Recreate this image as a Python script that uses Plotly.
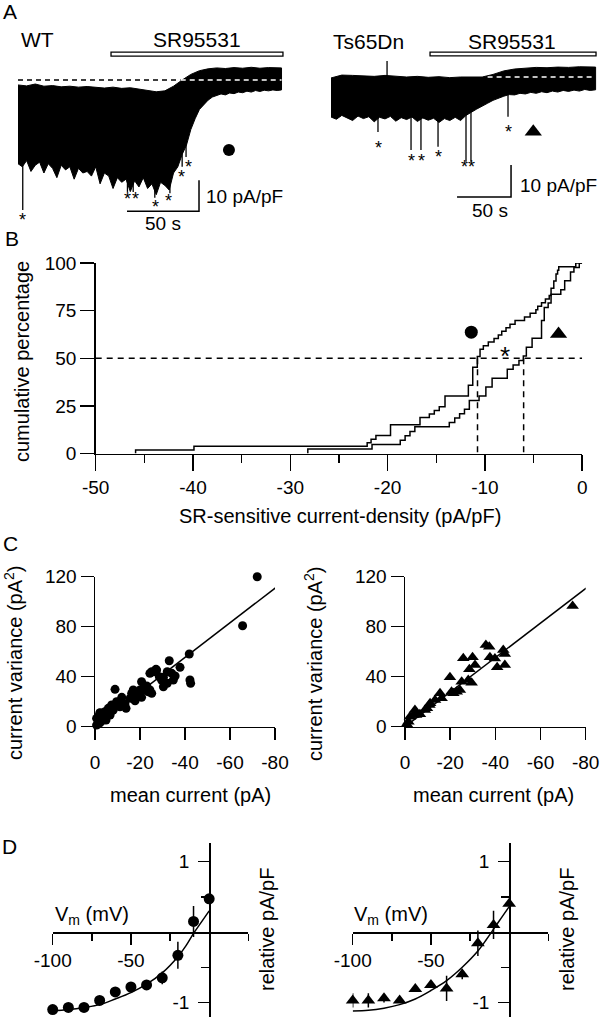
import plotly.graph_objects as go

W, H = 600, 1019
FONT = "Liberation Sans, Arial, sans-serif"

# ---------------- Panel A: recordings (time in s, current density in pA/pF) ----------------
wt_upper_t = [0, 6, 12, 18, 24, 30, 36, 42, 48, 54, 60, 66, 72, 78, 84, 90, 96, 102, 108, 114,
              120, 126, 132, 138, 144, 150, 156, 162, 168, 174, 180, 183]
wt_upper_i = [-1.6, -1.9, -1.3, -2.0, -1.8, -2.2, -2.0, -2.3, -2.1, -2.4, -2.6, -2.3, -2.7, -2.5,
              -2.9, -3.2, -3.8, -3.5, -2.0, 0.0, 1.8, 3.0, 3.6, 3.9, 3.7, 4.0, 3.8, 4.1, 3.8, 4.0,
              3.9, 3.9]
wt_lower_t = [0, 3, 6, 9, 12, 15, 18, 21, 24, 27, 30, 33, 36, 39, 42, 45, 48, 51, 54, 57, 60, 63,
              66, 69, 72, 75, 78, 81, 84, 87, 90, 93, 96, 99, 102, 105, 108, 111, 114, 117, 120,
              123, 126, 129, 132, 135, 138, 141, 144, 147, 150, 153, 156, 159, 162, 165, 168, 171,
              174, 177, 180, 183]
wt_lower_i = [-27, -28, -26, -29.5, -27.5, -26.5, -30, -27, -28.5, -31.5, -27.5, -29, -28, -32,
              -28.5, -30, -29.5, -31, -28, -33.5, -30, -31, -35, -31.5, -33, -32, -36, -32.5,
              -34.5, -31.5, -35, -33.5, -37, -33, -34, -35.5, -30, -28, -24, -21, -16, -12.5,
              -9.5, -8, -6.5, -5.5, -5, -4.5, -4.8, -4.2, -4.4, -3.9, -4.1, -3.6, -3.9, -3.4,
              -3.7, -3.3, -3.5, -3.2, -3.4, -3.2]
wt_spike_t = [3.3, 76.0, 80.0, 95.0, 105.5, 114.0, 116.7]
wt_spike_min = [-41.9, -36.1, -36.1, -38.0, -36.5, -28.0, -24.8]
wt_star_t = [3.3, 76.2, 81.9, 95.8, 104.4, 113.7, 118.3]
wt_star_i = [-43.9, -37.1, -37.1, -39.7, -37.7, -30.0, -26.8]

ts_upper_t = [0, 10, 20, 30, 40, 50, 60, 70, 80, 90, 100, 110, 120, 130, 140, 150, 160, 170, 180,
              190, 200, 210, 220, 230, 245]
ts_upper_i = [-0.3, 0.6, 0.5, 0.4, 0.2, 0.5, 0.3, 0.0, 0.2, -0.1, 0.1, -0.2, 0.0, -0.1, 0.0, 0.8,
              1.9, 2.5, 2.8, 3.0, 2.9, 3.1, 3.0, 3.2, 3.1]
ts_lower_t = [0, 5, 10, 15, 20, 25, 30, 35, 40, 45, 50, 55, 60, 65, 70, 75, 80, 85, 90, 95, 100,
              105, 110, 115, 120, 125, 130, 135, 140, 145, 150, 155, 160, 165, 170, 175, 180, 185,
              190, 195, 200, 205, 210, 215, 220, 225, 230, 235, 240, 245]
ts_lower_i = [-12.5, -13.2, -12.0, -12.8, -13.6, -12.2, -13.0, -12.4, -14.0, -12.6, -13.1, -12.3,
              -13.8, -12.7, -13.3, -12.5, -13.9, -12.8, -13.5, -12.9, -14.2, -13.0, -13.6, -12.6,
              -13.6, -12.0, -11.0, -10.0, -9.0, -8.2, -7.3, -6.6, -6.0, -5.5, -5.6, -5.1, -5.3,
              -4.8, -5.1, -4.6, -4.9, -4.4, -4.7, -4.2, -4.5, -4.1, -4.4, -3.9, -4.2, -4.0]
ts_spike_t = [43.5, 74.1, 83.3, 99.1, 125.0, 129.6, 163.9]
ts_spike_min = [-17.2, -22.8, -22.8, -21.8, -26.5, -26.5, -12.4]
ts_up_spike_t = 51.9
ts_up_spike_max = 5.0
ts_star_t = [43.8, 74.1, 84.0, 99.4, 124.0, 130.3, 164.2]
ts_star_i = [-20.9, -24.9, -24.9, -23.7, -27.0, -27.0, -16.0]

wt_sr = [64.6, 184.0]
ts_sr = [91.7, 245.4]
scale_t, scale_i = 50, 10
wt_bar_corner = [125.7, -42.3]
ts_bar_corner = [166.7, -37.5]
wt_marker_a = [146.5, -22.6]
ts_marker_a = [187.3, -17.1]

# ---------------- Panel B: cumulative distributions ----------------
wt_cdf_x = [-45.9, -39.9, -22.1, -21.7, -21.2, -19.7, -16.67, -15.71, -15.2, -14.69, -14.1, -11.7,
            -11.25, -10.78, -10.5, -10.16, -9.65, -9.06, -8.62, -8.27, -7.83, -7.42, -6.9, -5.93,
            -5.35, -4.76, -4.57, -4.18, -3.78, -3.39, -3.2, -2.92, -2.69, -2.53, -2.41, -0.66]
wt_cdf_pct = [1.9, 3.8, 5.7, 7.5, 9.4, 15.1, 18.9, 20.8, 22.6, 24.5, 30.2, 35.8, 45.3, 50.9, 54.7,
              56.6, 58.5, 60.4, 62.3, 64.2, 66.0, 67.9, 69.8, 71.7, 73.6, 75.5, 77.4, 79.2, 81.1,
              83.0, 86.8, 90.6, 94.3, 96.2, 98.1, 100]
ts_cdf_x = [-28.2, -21.6, -18.7, -18.2, -17.7, -17.2, -13.66, -13.1, -12.6, -12.1, -11.6, -10.6,
            -9.9, -9.26, -7.7, -7.1, -6.5, -6.05, -5.74, -5.15, -4.18, -3.9, -3.5, -3.2, -2.2,
            -1.8, -1.2, -0.85, -0.3]
ts_cdf_pct = [2.3, 4.7, 7.0, 9.3, 11.6, 14.0, 16.3, 18.6, 20.9, 23.3, 27.9, 30.2, 34.9, 39.5,
              44.2, 46.5, 48.8, 51.2, 55.8, 60.5, 69.8, 76.7, 79.1, 83.7, 86.0, 90.7, 95.3, 97.7,
              100]
wt_median, ts_median = -10.76, -6.02
wt_marker_b = [-11.4, 63.7]
ts_marker_b = [-2.43, 62.8]
star_b = [-7.9, 54.1]

# ---------------- Panel C: variance vs mean ----------------
wt_mean = [-72.1, -65.6, -41.9, -42.2, -42.5, -37.8, -33.0, -27.1, -25.2, -32.1, -30.4, -35.6,
           -29.6, -32.1, -30.4, -20.7, -23.0, -24.4, -20.0, -17.0, -16.3, -18.5, -20.7, -15.6,
           -17.8, -8.9, -11.9, -9.6, -13.3, -11.1, -7.4, -8.1, -5.9, -4.4, -6.7, -2.2, -3.7, -1.5,
           -3.0, -0.7, -0.7, -2.2, -3.7, -2.2, -5.2, -6.7, -4.9, -10.4, -12.6, -13.8, -24.4,
           -26.2, -27.4, -28.6, -34.1, -34.8, -21.5, -23.7, -25.2]
wt_var = [120, 80.8, 58.2, 37.4, 34.7, 47.5, 52.8, 45.9, 44.0, 44.0, 39.5, 40.6, 37.4, 34.7, 32.0,
          36.0, 32.6, 29.4, 29.4, 29.4, 26.7, 25.4, 23.5, 22.7, 20.8, 29.9, 23.5, 20.0, 18.2, 16.0,
          17.4, 13.4, 14.7, 12.0, 10.7, 11.2, 9.4, 8.0, 7.5, 6.7, 1.3, 3.2, 5.3, 10.7, 12.0, 9.3,
          5.3, 18.7, 18.7, 14.7, 42.7, 44.0, 45.3, 40.0, 42.7, 37.3, 29.3, 28.0, 26.7]
ts_mean = [-74.2, -35.8, -37.3, -43.5, -44.2, -44.2, -40.8, -39.8, -37.6, -25.8, -29.9, -31.0,
           -28.5, -19.9, -28.0, -29.5, -25.1, -24.3, -20.6, -21.4, -15.5, -16.2, -13.3, -10.8,
           -9.7, -4.4, -4.9, -2.2, -1.5, -3.7, -6.6, -8.8, -11.1, -22.9, -0.8]
ts_var = [96.5, 65.4, 64.0, 61.4, 58.1, 49.3, 47.5, 54.5, 55.5, 54.7, 55.5, 49.4, 45.9, 39.5,
          37.4, 35.2, 36.0, 29.4, 28.0, 26.7, 26.7, 22.7, 21.4, 17.4, 14.7, 13.4, 9.3, 8.0, 4.0,
          9.3, 9.9, 13.3, 18.7, 28.0, 2.0]
wt_fit_x, wt_fit_y = [0, -80.5], [0, 111.5]
ts_fit_x, ts_fit_y = [0, -80.2], [0, 110.8]

# ---------------- Panel D: I-V relations ----------------
vm = [-100, -90, -80, -70, -60, -50, -40, -30, -20, -10, 0]
wt_iv = [-1.10, -1.07, -1.07, -0.97, -0.85, -0.78, -0.75, -0.65, -0.33, 0.15, 0.47]
wt_iv_err = [0, 0, 0, 0, 0, 0, 0, 0.09, 0.19, 0.22, 0.05]
ts_iv = [-0.97, -0.97, -0.94, -0.97, -0.81, -0.75, -0.80, -0.60, -0.16, 0.10, 0.40]
ts_iv_err = [0.10, 0.10, 0.06, 0, 0, 0, 0.18, 0.07, 0.18, 0.20, 0.03]
vm_fit = [-100, -90, -80, -70, -60, -50, -40, -30, -20, -15, -10, -5, 0]
wt_fit_iv = [-1.12, -1.10, -1.07, -1.03, -0.95, -0.86, -0.74, -0.58, -0.35, -0.20, -0.02, 0.14, 0.30]
ts_fit_iv = [-1.12, -1.11, -1.08, -1.03, -0.95, -0.83, -0.69, -0.50, -0.27, -0.12, 0.04, 0.20, 0.36]


def px(x):
    return x / W


def py(y):
    return 1 - y / H


fig = go.Figure()


def line(x, y, xa, ya, color="black", width=1.5, dash=None, shape="linear"):
    fig.add_trace(go.Scatter(x=x, y=y, xaxis=xa, yaxis=ya, mode="lines", cliponaxis=False,
                             line=dict(color=color, width=width, dash=dash, shape=shape),
                             hoverinfo="skip"))


def markers(x, y, xa, ya, symbol, size, err=None):
    fig.add_trace(go.Scatter(x=x, y=y, xaxis=xa, yaxis=ya, mode="markers", cliponaxis=False,
                             marker=dict(symbol=symbol, size=size, color="black", line=dict(width=0)),
                             error_y=None if err is None else dict(type="data", array=err, color="black",
                                                                    thickness=1.5, width=0),
                             hoverinfo="skip"))


# ---- Panel A traces
for up_t, up_i, lo_t, lo_i, xa, ya in [(wt_upper_t, wt_upper_i, wt_lower_t, wt_lower_i, "x", "y"),
                                       (ts_upper_t, ts_upper_i, ts_lower_t, ts_lower_i, "x2", "y2")]:
    fig.add_trace(go.Scatter(x=up_t + lo_t[::-1], y=up_i + lo_i[::-1], xaxis=xa, yaxis=ya,
                             mode="lines", fill="toself", fillcolor="black",
                             line=dict(color="black", width=1), hoverinfo="skip"))

sx, sy = [], []
for t, m in zip(wt_spike_t, wt_spike_min):
    sx += [t, t, None]
    sy += [-10, m, None]
line(sx, sy, "x", "y", width=1.3)
sx, sy = [], []
for t, m in zip(ts_spike_t, ts_spike_min):
    sx += [t, t, None]
    sy += [-5, m, None]
sx += [ts_up_spike_t, ts_up_spike_t]
sy += [0, ts_up_spike_max]
line(sx, sy, "x2", "y2", width=1.3)

# baselines
line([0, 113], [0, 0], "x", "y", dash="5px,4px")
line([113, 183], [0, 0], "x", "y", color="white", dash="5px,4px")
line([145, 245], [0, 0], "x2", "y2", color="white", dash="5px,4px")

# scale bars
for (ct, ci), xa, ya in [(wt_bar_corner, "x", "y"), (ts_bar_corner, "x2", "y2")]:
    line([ct - scale_t, ct, ct], [ci, ci, ci + scale_i], xa, ya)

markers([wt_marker_a[0]], [wt_marker_a[1]], "x", "y", "circle", 12)
markers([ts_marker_a[0]], [ts_marker_a[1]], "x2", "y2", "triangle-up", 15)

# SR95531 application bars
for (t0, t1), ya, yb, xr, yr in [(wt_sr, 7.7, 9.0, "x", "y"), (ts_sr, 6.6, 7.8, "x2", "y2")]:
    fig.add_shape(type="rect", x0=t0, x1=t1, y0=ya, y1=yb, xref=xr, yref=yr,
                  line=dict(color="black", width=1.3), fillcolor="white")

# ---- Panel B
for cx, cp in [(wt_cdf_x, wt_cdf_pct), (ts_cdf_x, ts_cdf_pct)]:
    line([cx[0]] + cx + [0], [0] + cp + [cp[-1]], "x3", "y3", shape="hv")
line([-50, 0], [50, 50], "x3", "y3", dash="6px,5px")
line([wt_median, wt_median, None, ts_median, ts_median], [50, 0, None, 50, 0], "x3", "y3",
     dash="6px,5px")
markers([wt_marker_b[0]], [wt_marker_b[1]], "x3", "y3", "circle", 13)
markers([ts_marker_b[0]], [ts_marker_b[1]], "x3", "y3", "triangle-up", 15)

# ---- Panel C
markers(wt_mean, wt_var, "x4", "y4", "circle", 9)
line(wt_fit_x, wt_fit_y, "x4", "y4", width=1.5)
markers(ts_mean, ts_var, "x5", "y5", "triangle-up", 11)
line(ts_fit_x, ts_fit_y, "x5", "y5", width=1.5)

# ---- Panel D
line(vm_fit, wt_fit_iv, "x6", "y6", shape="spline")
markers(vm, wt_iv, "x6", "y6", "circle", 11, wt_iv_err)
line(vm_fit, ts_fit_iv, "x7", "y7", shape="spline")
markers(vm, ts_iv, "x7", "y7", "triangle-up", 12, ts_iv_err)

# ---------------- axes ----------------
def ax(**kw):
    d = dict(showgrid=False, zeroline=False, showline=True, linecolor="black", linewidth=1.5,
             ticks="outside", tickcolor="black", tickwidth=1.5, automargin=False,
             tickfont=dict(size=19, color="black", family=FONT), fixedrange=True)
    d.update(kw)
    return d


a_dom = [py(230), py(20)]
layout_axes = dict(
    xaxis=dict(domain=[0, 0.5], range=[-18 / 1.44, (300 - 18) / 1.44], visible=False, anchor="y"),
    yaxis=dict(domain=a_dom, range=[(80 - 230) / 3.1, (80 - 20) / 3.1], visible=False, anchor="x"),
    xaxis2=dict(domain=[0.5, 1], range=[-31 / 1.08, (600 - 331) / 1.08], visible=False, anchor="y2"),
    yaxis2=dict(domain=a_dom, range=[(77 - 230) / 3.2, (77 - 20) / 3.2], visible=False, anchor="x2"),
    xaxis3=ax(domain=[px(95.7), px(582.2)], range=[-50, 0], anchor="y3", tickvals=[-50, -40, -30, -20, -10, 0],
              ticktext=["-50", "-40", "-30", "-20", "-10", "0"], ticklen=16,
              minor=dict(dtick=5, tick0=0, ticklen=8, tickwidth=1.5, tickcolor="black", ticks="outside")),
    yaxis3=ax(domain=[py(453.5), py(263.1)], range=[0, 100], anchor="x3", tickvals=[0, 25, 50, 75, 100],
              ticklen=14),
    xaxis4=ax(domain=[px(95), px(275)], range=[0, -80], anchor="y4", tickvals=[0, -20, -40, -60, -80],
              ticktext=["0", "-20", "-40", "-60", "-80"], ticklen=12, ticklabelstandoff=6),
    yaxis4=ax(domain=[py(726.7), py(576.7)], range=[0, 120], anchor="x4", tickvals=[0, 40, 80, 120],
              ticklen=13),
    xaxis5=ax(domain=[px(405), px(585.7)], range=[0, -80], anchor="y5", tickvals=[0, -20, -40, -60, -80],
              ticktext=["0", "-20", "-40", "-60", "-80"], ticklen=12, ticklabelstandoff=6),
    yaxis5=ax(domain=[py(726.7), py(576.7)], range=[0, 120], anchor="x5", tickvals=[0, 40, 80, 120],
              ticklen=13),
)
d_yrange = [(932 - 1017) / 70.5, (932 - 843) / 70.5]
for i, (x0, x1) in [(6, (52.7, 248.3)), (7, (352.7, 548.3))]:
    layout_axes[f"xaxis{i}"] = ax(domain=[px(x0), px(x1)], range=[-100, 25], anchor="free",
                                  position=py(932), tickvals=[-100, -50],
                                  ticktext=["-100", "-50"], ticklen=11,
                                  minor=dict(tickvals=[-75, -25, 25], ticklen=7, tickwidth=1.5,
                                             tickcolor="black", ticks="outside"))
    layout_axes[f"yaxis{i}"] = ax(domain=[py(1017), py(843)], range=d_yrange, anchor="free",
                                  position=px(x0 + 100 * (x1 - x0) / 125), tickvals=[1, -1],
                                  ticktext=["1", "-1"], ticklen=11, ticklabelstandoff=5,
                                  minor=dict(tickvals=[0.5, -0.5], ticklen=8, tickwidth=1.5,
                                             tickcolor="black", ticks="outside"))

# ---------------- text ----------------
ann = []


def text(s, x, y, size=20, xanchor="center", angle=0, xref="paper", yref="paper", yshift=0):
    if xref == "paper":
        x, y = px(x), py(y)
    ann.append(dict(text=s, x=x, y=y, xref=xref, yref=yref, showarrow=False, xanchor=xanchor,
                    yanchor="middle", textangle=angle, yshift=yshift,
                    font=dict(size=size, color="black", family=FONT)))


text("A", 10, 12, 21)
text("WT", 19, 40, 21, "left")
text("SR95531", 197, 40, 21)
text("Ts65Dn", 331, 41, 21, "left")
text("SR95531", 512, 41, 21)
text("10 pA/pF", 204, 197, 19, "left")
text("50 s", 163, 223, 19)
text("10 pA/pF", 518, 186, 19, "left")
text("50 s", 490, 210, 19)
for t, i in zip(wt_star_t, wt_star_i):
    text("*", t, i, 18, xref="x", yref="y", yshift=-4)
for t, i in zip(ts_star_t, ts_star_i):
    text("*", t, i, 18, xref="x2", yref="y2", yshift=-4)

text("B", 12, 238, 21)
text("cumulative percentage", 22, 362, 20, angle=-90)
text("SR-sensitive current-density (pA/pF)", 340, 516, 20)
text("*", star_b[0], star_b[1], 26, xref="x3", yref="y3", yshift=-6)

text("C", 10, 543, 21)
text("current variance (pA<sup>2</sup>)", 13, 663, 20, angle=-90)
text("current variance (pA<sup>2</sup>)", 313, 663, 20, angle=-90)
text("mean current (pA)", 190, 795, 20)
text("mean current (pA)", 493, 795, 20)

text("D", 9, 846, 21)
vm_label = "V<sub><span style='color:black'>m</span></sub> (mV)"
text(vm_label, 53, 915, 20, "left")
text(vm_label, 352, 915, 20, "left")
text("relative pA/pF", 267, 930, 20, angle=-90)
text("relative pA/pF", 567, 930, 20, angle=-90)

fig.update_layout(
    width=W, height=H, autosize=False,
    margin=dict(l=0, r=0, t=0, b=0, pad=0, autoexpand=False),
    paper_bgcolor="white", plot_bgcolor="rgba(0,0,0,0)",
    showlegend=False,
    font=dict(family=FONT, color="black"),
    annotations=ann,
    **layout_axes,
)

# the page body keeps no margin so the 600x1019 figure fills the window exactly
fig.write_html("out.html", config={"displayModeBar": False, "staticPlot": True},
               post_script="document.body.style.margin = '0px';")
